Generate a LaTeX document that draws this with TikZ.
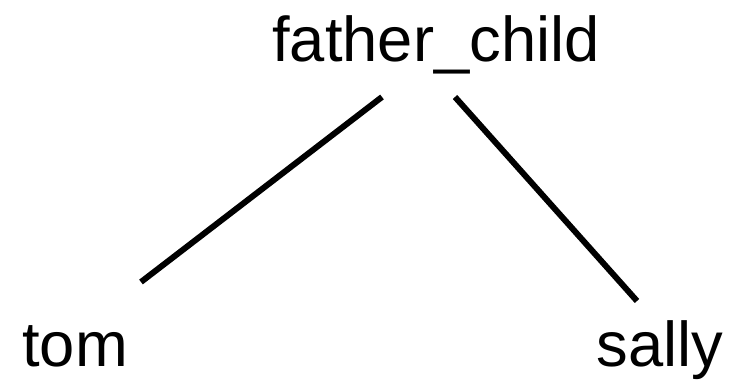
\documentclass[tikz,border=0pt]{standalone}
\usepackage{fontspec}
\setmainfont{Liberation Sans}
\begin{document}
\begin{tikzpicture}[x=0.01cm,y=-0.01cm,
  lbl/.style={anchor=base,inner sep=0pt,font=\fontsize{18}{20}\selectfont},
  edge/.style={line width=1.7pt}]
\useasboundingbox (0,0) rectangle (735,386);
\node[lbl] (fc) at (436,62) {father\_child};
\node[lbl] (tom) at (75,367) {tom};
\node[lbl] (sally) at (660,367) {sally};
\coordinate (fcl) at (382,97);
\coordinate (fcr) at (455,97);
\coordinate (tomt) at (141,282);
\coordinate (sallyt) at (637,301);
\draw[edge] (fcl) -- (tomt);
\draw[edge] (fcr) -- (sallyt);
\end{tikzpicture}
\end{document}
